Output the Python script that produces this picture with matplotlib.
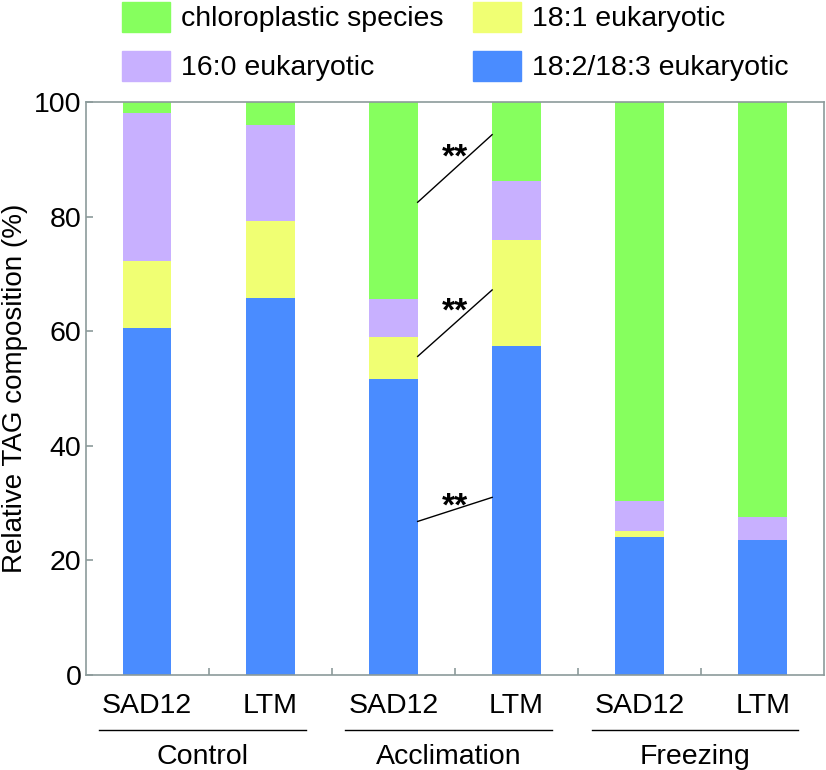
import numpy as np
import matplotlib
matplotlib.use('Agg')
import matplotlib.pyplot as plt
from matplotlib.patches import Patch
from matplotlib.transforms import blended_transform_factory

plt.rcParams['font.family'] = ['Liberation Sans', 'DejaVu Sans']

# data (% of TAG), bars in order Control SAD12, LTM, Acclimation SAD12, LTM, Freezing SAD12, LTM
groups = ['Control', 'Acclimation', 'Freezing']
lines = ['SAD12', 'LTM', 'SAD12', 'LTM', 'SAD12', 'LTM']
euk_18_2 = [60.6, 65.8, 51.7, 57.5, 24.1, 23.5]
euk_18_1 = [11.6, 13.5, 7.3, 18.4, 1.0, 0.0]
euk_16_0 = [25.9, 16.6, 6.7, 10.4, 5.2, 4.0]
chloro = [1.9, 4.1, 34.3, 13.7, 69.7, 72.5]

# significance lines between Acclimation SAD12 and LTM
sig_y = [(82.5, 94.3), (55.6, 67.2), (26.8, 31.0)]
star_y = [92.1, 65.2, 31.2]

c_green = '#86FF5E'
c_yellow = '#F0FF73'
c_purple = '#C8B0FF'
c_blue = '#4A8CFF'
c_spine = '#8C9B9B'

fs = 20.5

fig = plt.figure(figsize=(8.26, 7.7), dpi=100)
ax = fig.add_axes([85.5/826, 1-675/770, (824.3-85.5)/826, (675-102)/770])

x = np.arange(len(lines))
w = 0.395
b1 = np.array(euk_18_2)
b2 = b1 + np.array(euk_18_1)
b3 = b2 + np.array(euk_16_0)
ax.bar(x, euk_18_2, w, color=c_blue, linewidth=0)
ax.bar(x, euk_18_1, w, bottom=b1, color=c_yellow, linewidth=0)
ax.bar(x, euk_16_0, w, bottom=b2, color=c_purple, linewidth=0)
ax.bar(x, chloro, w, bottom=b3, color=c_green, linewidth=0)

ax.set_xlim(-0.5, 5.5)
ax.set_ylim(0, 100)
ax.set_yticks([0, 20, 40, 60, 80, 100])
ax.set_xticks(x)
ax.set_xticklabels(lines)
ax.set_xticks(np.arange(0.5, 5, 1), minor=True)
ax.tick_params(axis='y', direction='in', length=5, width=1.2, color=c_spine, labelsize=fs, pad=3)
ax.tick_params(axis='x', which='major', length=0, labelsize=fs, pad=13)
ax.tick_params(axis='x', which='minor', direction='in', length=5, width=1.2, color=c_spine)
for s in ax.spines.values():
    s.set_color(c_spine)
    s.set_linewidth(1.2)

ax.set_ylabel('Relative TAG composition (%)', fontsize=20)
ax.yaxis.set_label_coords(-0.078, 0.5)

# group underlines + names
tr = blended_transform_factory(ax.transData, ax.transAxes)
for k, g in enumerate(groups):
    cx = 2*k + 0.45
    ax.plot([cx-0.84, cx+0.84], [-0.096, -0.096], color='black', lw=1, transform=tr, clip_on=False)
    ax.text(cx, -0.143, g, fontsize=fs, ha='center', va='center', transform=tr)

# ** lines
for (ya, yb), ys in zip(sig_y, star_y):
    ax.plot([2+w/2, 3-w/2], [ya, yb], color='black', lw=1)
    ax.text(2.5, ys-3.4, '**', fontsize=24, fontweight='bold', ha='center', va='baseline')

handles = [Patch(color=c_green), Patch(color=c_purple), Patch(color=c_yellow), Patch(color=c_blue)]
labels = ['chloroplastic species', '16:0 eukaryotic', '18:1 eukaryotic', '18:2/18:3 eukaryotic']
fig.legend(handles, labels, ncol=2, loc='upper left', bbox_to_anchor=(122/826, 0.998),
           frameon=False, fontsize=fs, handlelength=1.68, handleheight=1.25,
           handletextpad=0.39, labelspacing=0.65, columnspacing=1.05, borderpad=0, borderaxespad=0)

fig.savefig('out.png', dpi=100)
